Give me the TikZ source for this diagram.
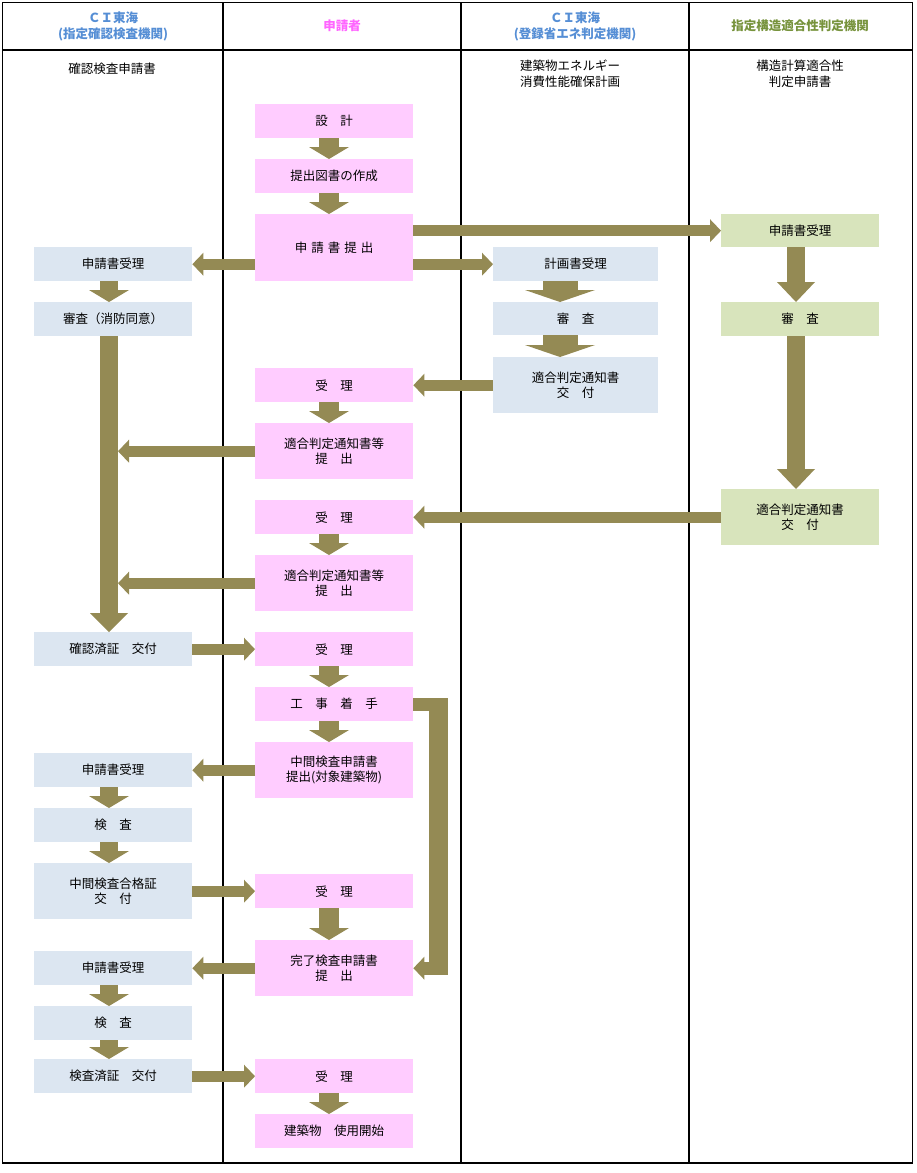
\documentclass[tikz,border=0pt]{standalone}
\usepackage{fontspec}
\setmainfont{Noto Sans CJK JP}
\usetikzlibrary{arrows.meta,calc}
\definecolor{bluebox}{RGB}{220,230,241}
\definecolor{pinkbox}{RGB}{255,204,255}
\definecolor{greenbox}{RGB}{216,228,188}
\definecolor{arrowc}{RGB}{148,138,84}
\definecolor{hblue}{RGB}{85,142,213}
\definecolor{hpink}{RGB}{255,102,255}
\definecolor{hgreen}{RGB}{119,147,60}
\begin{document}
\begin{tikzpicture}[x=1pt,y=-1pt,
  box/.style={anchor=north west, inner sep=0pt, minimum height=34pt, align=center,
    font=\fontsize{12.5}{15.5}\selectfont},
  bb/.style={box, fill=bluebox, minimum width=158pt},
  pb/.style={box, fill=pinkbox, minimum width=158pt},
  eb/.style={box, fill=bluebox, minimum width=165pt},
  gb/.style={box, fill=greenbox, minimum width=158pt},
  tall/.style={minimum height=56pt},
  hdr/.style={align=center, inner sep=0pt, font=\fontsize{12.5}{16}\selectfont\bfseries},
  sub/.style={align=center, inner sep=0pt, font=\fontsize{12.5}{15.5}\selectfont},
  rule/.style={line width=1.2pt, black},
  pv/.style={draw=arrowc, line width=20pt, -{Triangle[length=12pt,width=40pt,line width=0pt,fill=arrowc]}},
  lv/.style={draw=arrowc, line width=18pt, -{Triangle[length=12pt,width=40pt,line width=0pt,fill=arrowc]}},
  lvl/.style={draw=arrowc, line width=18pt, -{Triangle[length=19pt,width=38pt,line width=0pt,fill=arrowc]}},
  ev/.style={draw=arrowc, line width=35pt, -{Triangle[length=12pt,width=70pt,line width=0pt,fill=arrowc]}},
  gv/.style={draw=arrowc, line width=18pt, -{Triangle[length=20pt,width=38pt,line width=0pt,fill=arrowc]}},
  ha/.style={draw=arrowc, line width=11pt, -{Triangle[length=11pt,width=23pt,line width=0pt,fill=arrowc]}},
]
\useasboundingbox (0,0) rectangle (916,1173);
\fill[white] (0,0) rectangle (916,1173);

% frame and lanes
\draw[rule] (2.5,2.5) rectangle (912.5,1163);
\draw[rule] (2.5,50) -- (912.5,50);
\draw[rule] (223,2.5) -- (223,1163);
\draw[rule] (461,2.5) -- (461,1163);
\draw[rule] (689,2.5) -- (689,1163);

% headers
\node[hdr, text=hblue] (h1) at (113,26) {ＣＩ東海\\(指定確認検査機関)};
\node[hdr, text=hpink] (h2) at (342,26) {申請者};
\node[hdr, text=hblue] (h3) at (575,26) {ＣＩ東海\\(登録省エネ判定機関)};
\node[hdr, text=hgreen] (h4) at (800,26) {指定構造適合性判定機関};

\node[sub] (s1) at (112,69) {確認検査申請書};
\node[sub] (s3) at (570,73.5) {建築物エネルギー\\消費性能確保計画};
\node[sub] (s4) at (800,73.5) {構造計算適合性\\判定申請書};

% axes for arrows
\coordinate (pax) at (329,0);
\coordinate (lax) at (109,0);
\coordinate (eax) at (560,0);
\coordinate (gax) at (796,0);
\coordinate (lshaft) at (118,0);

% left lane
\node[bb] (L1) at (34,247) {申請書受理};
\node[bb] (L2) at (34,302) {審査（消防同意）};
\node[bb] (L3) at (34,632) {確認済証　交付};
\node[bb] (L4) at (34,753) {申請書受理};
\node[bb] (L5) at (34,808) {検　査};
\node[bb, tall] (L6) at (34,863) {中間検査合格証\\交　付};
\node[bb] (L7) at (34,951) {申請書受理};
\node[bb] (L8) at (34,1006) {検　査};
\node[bb] (L9) at (34,1059) {検査済証　交付};

% applicant lane
\node[pb] (P1) at (255,104) {設　計};
\node[pb] (P2) at (255,159) {提出図書の作成};
\node[pb, minimum height=67pt] (P3) at (255,214) {申\hspace{4pt}請\hspace{4pt}書\hspace{4pt}提\hspace{4pt}出};
\node[pb] (P4) at (255,368) {受　理};
\node[pb, tall] (P5) at (255,423) {適合判定通知書等\\提　出};
\node[pb] (P6) at (255,500) {受　理};
\node[pb, tall] (P7) at (255,555) {適合判定通知書等\\提　出};
\node[pb] (P8) at (255,632) {受　理};
\node[pb] (P9) at (255,687) {工　事　着　手};
\node[pb, tall] (P10) at (255,742) {中間検査申請書\\提出(対象建築物)};
\node[pb] (P11) at (255,874) {受　理};
\node[pb, tall] (P12) at (255,940) {完了検査申請書\\提　出};
\node[pb] (P13) at (255,1059) {受　理};
\node[pb] (P14) at (255,1114) {建築物　使用開始};

% energy lane
\node[eb] (E1) at (493,247) {計画書受理};
\node[eb, minimum height=33pt] (E2) at (493,302) {審　査};
\node[eb, tall] (E3) at (493,357) {適合判定通知書\\交　付};

% structural lane
\node[gb, minimum height=33pt] (G1) at (721,214) {申請書受理};
\node[gb] (G2) at (721,302) {審　査};
\node[gb, tall] (G3) at (721,489) {適合判定通知書\\交　付};

% vertical arrows, applicant lane
\foreach \a/\b in {P1/P2,P2/P3,P4/P5,P6/P7,P8/P9,P9/P10,P11/P12,P13/P14}
  \draw[pv] (\a.south -| pax) -- (\b.north -| pax);

% vertical arrows, left lane
\foreach \a/\b in {L1/L2,L4/L5,L5/L6,L7/L8,L8/L9}
  \draw[lv] (\a.south -| lax) -- (\b.north -| lax);
\draw[lvl] (L2.south -| lax) -- (L3.north -| lax);

% energy lane
\draw[ev] (E1.south -| eax) -- (E2.north -| eax);
\draw[ev] (E2.south -| eax) -- (E3.north -| eax);

% structural lane
\draw[gv] (G1.south -| gax) -- (G2.north -| gax);
\draw[gv] (G2.south -| gax) -- (G3.north -| gax);

% horizontal arrows
\draw[ha] (P3.west |- L1.west) -- (L1.east);
\draw[ha] (P3.east |- G1.west) -- (G1.west);
\draw[ha] (P3.east |- E1.west) -- (E1.west);
\draw[ha] (E3.west |- P4.east) -- (P4.east);
\draw[ha] (P5.west) -- (P5.west -| lshaft);
\draw[ha] (G3.west |- P6.east) -- (P6.east);
\draw[ha] (P7.west) -- (P7.west -| lshaft);
\draw[ha] (L3.east) -- (P8.west);
\draw[ha] (P10.west |- L4.east) -- (L4.east);
\draw[ha] (L6.east |- P11.west) -- (P11.west);
\draw[ha] (P12.west |- L7.east) -- (L7.east);
\draw[ha] (L9.east) -- (P13.west);

% elbow arrow from construction start to completion inspection
\draw[ha, line width=13pt] (P9.east) -- ($(P9.east)+(25.5,0)$) |- (P12.east);
\fill[arrowc] ($(P9.east)+(16,-6.5)$) rectangle ($(P12.east)+(35,6.5)$);
\end{tikzpicture}
\end{document}
